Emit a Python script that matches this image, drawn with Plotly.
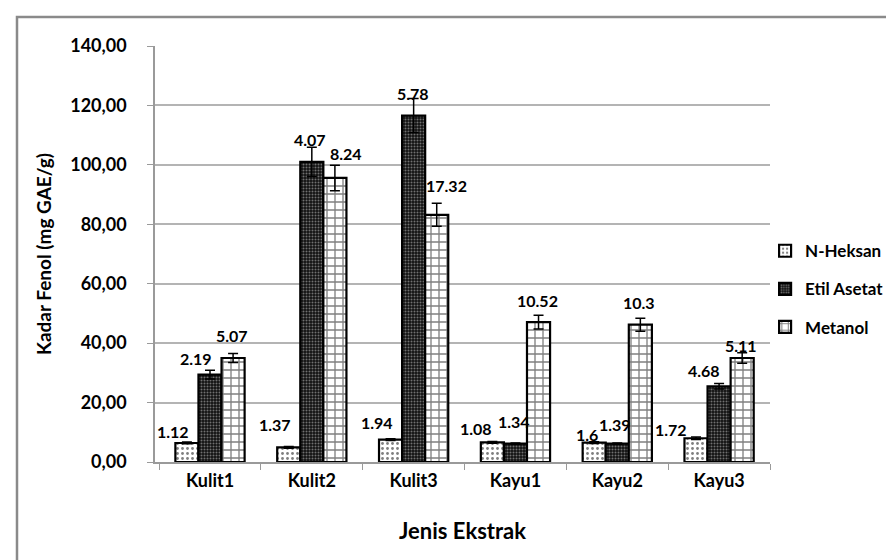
"""Kadar fenol per jenis ekstrak: grouped patterned bars with error bars."""

import plotly.graph_objects as go

CATEGORIES = ['Kulit1', 'Kulit2', 'Kulit3', 'Kayu1', 'Kayu2', 'Kayu3']

N_HEKSAN = [6.4, 4.9, 7.5, 6.6, 6.5, 8.0]
ETIL_ASETAT = [29.4, 101.0, 116.6, 6.2, 6.2, 25.5]
METANOL = [35.0, 95.6, 83.2, 47.1, 46.2, 35.0]

N_HEKSAN_ERR = [0.3, 0.3, 0.3, 0.3, 0.3, 0.4]
ETIL_ASETAT_ERR = [1.5, 4.9, 5.7, 0.2, 0.2, 0.9]
METANOL_ERR = [1.5, 4.3, 3.9, 2.3, 2.2, 1.8]

# text labels drawn above the bars in the original
N_HEKSAN_LBL = ['1.12', '1.37', '1.94', '1.08', '1.6', '1.72']
ETIL_ASETAT_LBL = ['2.19', '4.07', '5.78', '1.34', '1.39', '4.68']
METANOL_LBL = ['5.07', '8.24', '17.32', '10.52', '10.3', '5.11']

Y_TICKS = [0, 20, 40, 60, 80, 100, 120, 140]
Y_TICK_TEXT = ['0,00', '20,00', '40,00', '60,00', '80,00', '100,00', '120,00', '140,00']

FONT = 'Lato, Calibri, sans-serif'

# label placement (x offset in px from category centre, y in data units)
LBL_DX = {
    'N': [-37, -37, -37, -39, -30, -48],
    'E': [-14, -2, -1, -1, -2, -15],
    'M': [22, 34, 33, 22, 22, 22],
}
LBL_Y = {
    'N': [10.3, 12.7, 13.3, 11.4, 9.2, 11.0],
    'E': [34.9, 108.7, 124.1, 13.6, 12.7, 30.7],
    'M': [42.7, 103.9, 93.0, 54.5, 53.7, 39.1],
}

series = [
    ('N-Heksan', N_HEKSAN, N_HEKSAN_ERR,
     dict(shape='.', bgcolor='white', fgcolor='black', size=5, solidity=0.25)),
    ('Etil Asetat', ETIL_ASETAT, ETIL_ASETAT_ERR,
     dict(shape='.', bgcolor='#111111', fgcolor='#d0d0d0', size=3, solidity=0.35)),
    ('Metanol', METANOL, METANOL_ERR,
     dict(shape='+', bgcolor='white', fgcolor='black', size=8, solidity=0.3)),
]

fig = go.Figure()
for name, vals, errs, pattern in series:
    fig.add_trace(
        go.Bar(
            x=CATEGORIES,
            y=vals,
            name=name,
            legendgroup=name,
            marker=dict(color='white', line=dict(color='black', width=2.2), pattern=pattern),
            error_y=dict(type='data', array=errs, symmetric=True, color='black', thickness=1.5, width=5),
        )
    )

for key, labels in [('N', N_HEKSAN_LBL), ('E', ETIL_ASETAT_LBL), ('M', METANOL_LBL)]:
    for cat, txt, dx, yv in zip(CATEGORIES, labels, LBL_DX[key], LBL_Y[key]):
        fig.add_annotation(
            x=cat, y=yv, text=txt, showarrow=False, xshift=dx,
            font=dict(family=FONT, size=16, color='black', weight='bold'),
        )

# outer chart-area border (only top and left edges fall inside the picture)
fig.add_shape(
    type='rect', xref='paper', yref='paper',
    x0=-0.2244, x1=1.6, y0=-1.0, y1=1.0696,
    line=dict(color='#8a8a8a', width=2.5), layer='below',
)

fig.update_xaxes(
    type='category',
    showline=True, linecolor='#9a9a9a', linewidth=1.5,
    ticks='outside', tickson='boundaries', ticklen=6, tickcolor='#9a9a9a',
    tickfont=dict(family=FONT, size=18, color='black', weight='bold'),
    ticklabelstandoff=2,
    title=dict(text='Jenis Ekstrak', standoff=33,
               font=dict(family=FONT, size=22, color='black', weight='bold')),
)
fig.update_yaxes(
    range=[0, 140], tickvals=Y_TICKS, ticktext=Y_TICK_TEXT,
    showline=True, linecolor='#9a9a9a', linewidth=1.5,
    ticks='outside', ticklen=6, tickcolor='#9a9a9a',
    showgrid=True, gridcolor='#b4b4b4', gridwidth=1.5,
    tickfont=dict(family=FONT, size=18, color='black', weight='bold'),
    ticklabelstandoff=17,
    title=dict(text='Kadar Fenol (mg GAE/g)', standoff=14,
               font=dict(family=FONT, size=19, color='black', weight='bold')),
)

fig.update_layout(
    width=894, height=560,
    barmode='group', bargap=0.32, bargroupgap=0,
    plot_bgcolor='white', paper_bgcolor='white',
    margin=dict(l=147, r=132, t=38, b=105.5, autoexpand=False),
    showlegend=True,
    legend=dict(
        x=0.992, y=0.55, xanchor='left', yanchor='top',
        itemwidth=30, tracegroupgap=13,
        font=dict(family=FONT, size=17, color='black', weight='bold'),
        bgcolor='rgba(0,0,0,0)',
    ),
)

fig.write_html('out.html')
